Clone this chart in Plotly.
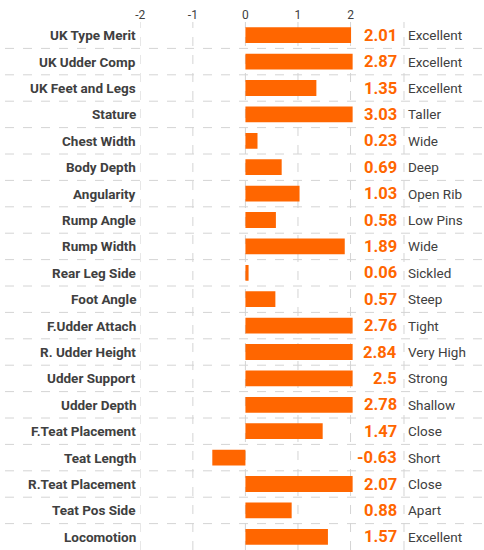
import plotly.graph_objects as go

traits = ["UK Type Merit", "UK Udder Comp", "UK Feet and Legs", "Stature", "Chest Width",
          "Body Depth", "Angularity", "Rump Angle", "Rump Width", "Rear Leg Side",
          "Foot Angle", "F.Udder Attach", "R. Udder Height", "Udder Support", "Udder Depth",
          "F.Teat Placement", "Teat Length", "R.Teat Placement", "Teat Pos Side", "Locomotion"]
values = [2.01, 2.87, 1.35, 3.03, 0.23, 0.69, 1.03, 0.58, 1.89, 0.06,
          0.57, 2.76, 2.84, 2.5, 2.78, 1.47, -0.63, 2.07, 0.88, 1.57]
value_labels = ["2.01", "2.87", "1.35", "3.03", "0.23", "0.69", "1.03", "0.58", "1.89", "0.06",
                "0.57", "2.76", "2.84", "2.5", "2.78", "1.47", "-0.63", "2.07", "0.88", "1.57"]
descriptors = ["Excellent", "Excellent", "Excellent", "Taller", "Wide", "Deep", "Open Rib",
               "Low Pins", "Wide", "Sickled", "Steep", "Tight", "Very High", "Strong",
               "Shallow", "Close", "Short", "Close", "Apart", "Excellent"]
tick_vals = [-2, -1, 0, 1, 2]

FONT = "Roboto, sans-serif"
ORANGE = "#ff6600"
GREY = "#d4d4d4"
TEXT = "#404040"

W, H = 484, 550
x0_px, x1_px = 137, 352

fig = go.Figure()
fig.add_trace(go.Bar(
    x=values, y=traits, orientation="h", width=0.6,
    marker=dict(color=ORANGE, line=dict(width=0)),
    hoverinfo="x+y"))

shapes = []
# horizontal separators across full width
for i in range(len(traits) - 1):
    shapes.append(dict(type="line", xref="paper", yref="y", x0=0, x1=1,
                       y0=i + 0.5, y1=i + 0.5, layer="below",
                       line=dict(color=GREY, width=1, dash="dash")))
# vertical tick lines
for t in tick_vals:
    shapes.append(dict(type="line", xref="x", yref="paper", x0=t, x1=t,
                       y0=0, y1=1, layer="below",
                       line=dict(color=GREY, width=1, dash="dash")))
shapes.append(dict(type="line", xref="paper", yref="paper", x0=404 / W, x1=404 / W,
                   y0=0, y1=1, layer="below",
                   line=dict(color=GREY, width=1, dash="dash")))

annotations = []
for i, (t, v, d) in enumerate(zip(traits, value_labels, descriptors)):
    annotations.append(dict(x=(x0_px - 2) / W, y=t, xref="paper", yref="y",
                            text="<b>%s</b>" % t, showarrow=False, xanchor="right",
                            font=dict(family=FONT, size=13.5, color=TEXT)))
    annotations.append(dict(x=399 / W, y=t, xref="paper", yref="y",
                            text="<b>%s</b>" % v, showarrow=False, xanchor="right",
                            font=dict(family=FONT, size=16.5, color=ORANGE)))
    annotations.append(dict(x=406 / W, y=t, xref="paper", yref="y",
                            text=d, showarrow=False, xanchor="left",
                            font=dict(family=FONT, size=13.5, color=TEXT)))

fig.update_layout(
    width=W, height=H,
    margin=dict(l=0, r=0, t=22, b=0),
    plot_bgcolor="rgba(0,0,0,0)", paper_bgcolor="white",
    showlegend=False,
    shapes=shapes, annotations=annotations,
    xaxis=dict(domain=[x0_px / W, x1_px / W], range=[-2, 2.04], side="top",
               tickvals=tick_vals, ticktext=[str(t) for t in tick_vals],
               showgrid=False, zeroline=False, showline=False,
               tickfont=dict(family=FONT, size=12, color=TEXT), ticklen=0),
    yaxis=dict(categoryorder="array", categoryarray=traits,
               showticklabels=False, showgrid=False, zeroline=False, showline=False,
               range=[len(traits) - 0.5, -0.5]),
)

fig.write_html("out.html", config={"displayModeBar": False},
               post_script="document.body.style.margin='0';")
